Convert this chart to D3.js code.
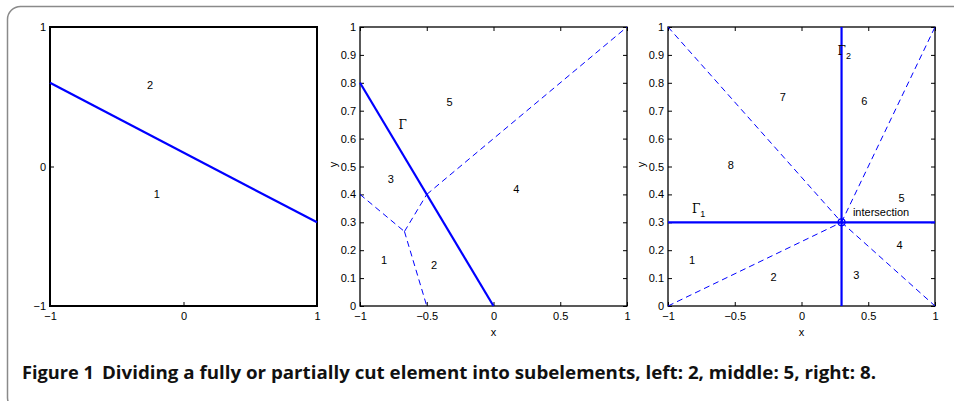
<!DOCTYPE html>
<html><head><meta charset="utf-8">
<script src="https://cdn.jsdelivr.net/npm/d3@7"></script>
<style>
html,body{margin:0;padding:0;background:#fff;}
svg{display:block;font-family:"Liberation Sans",Arial,Helvetica,sans-serif;}
</style></head>
<body><svg id="c" width="954" height="401"></svg>
<script>
// ---------- data ----------
const leftXTicks = [-1, 0, 1];
const leftYTicks = [-1, 0, 1];
const leftCut = [[-1, 0.6], [1, -0.4]];
const leftLabels = [{t: "2", x: -0.25, y: 0.58}, {t: "1", x: -0.2, y: -0.2}];

const xTicks = [-1, -0.5, 0, 0.5, 1];
const yTicks = [0, 0.1, 0.2, 0.3, 0.4, 0.5, 0.6, 0.7, 0.8, 0.9, 1];

const midCut = [[-1, 0.8], [0, 0]];
const midSub = [
  [[-1, 0.4], [-0.667, 0.267]],
  [[-0.667, 0.267], [-0.5, 0]],
  [[-0.667, 0.267], [-0.5, 0.4]],
  [[-0.5, 0.4], [1, 1]]
];
const midLabels = [
  {t: "5", x: -0.33, y: 0.73}, {t: "3", x: -0.77, y: 0.455}, {t: "4", x: 0.17, y: 0.42},
  {t: "1", x: -0.82, y: 0.165}, {t: "2", x: -0.445, y: 0.145}
];
const midGamma = {x: -0.68, y: 0.65, sub: ""};

const rightCuts = [[[0.3, 0], [0.3, 1]], [[-1, 0.3], [1, 0.3]]];
const rightPoint = [0.3, 0.3];
const rightSub = [
  [[-1, 1], [0.3, 0.3]], [[0.3, 0.3], [1, 0]],
  [[-1, 0], [0.3, 0.3]], [[0.3, 0.3], [1, 1]]
];
const rightLabels = [
  {t: "7", x: -0.14, y: 0.75}, {t: "6", x: 0.47, y: 0.735}, {t: "8", x: -0.53, y: 0.505},
  {t: "5", x: 0.75, y: 0.385}, {t: "4", x: 0.735, y: 0.218}, {t: "1", x: -0.82, y: 0.165},
  {t: "2", x: -0.21, y: 0.102}, {t: "3", x: 0.41, y: 0.11}
];
const rightGammas = [{x: 0.32, y: 0.915, sub: "2"}, {x: -0.77, y: 0.35, sub: "1"}];
const rightNote = {t: "intersection", x: 0.385, y: 0.335};

const captionHead = "Figure 1";
const captionBody = "Dividing a fully or partially cut element into subelements, left: 2, middle: 5, right: 8.";

// ---------- drawing ----------
const svg = d3.select("#c");
const blue = "#0000ff";
const FS = 11;

// outer frame (right and bottom edges run off the picture)
svg.append("rect").attr("x", 7.5).attr("y", 6.5).attr("width", 1000).attr("height", 404)
  .attr("rx", 13).attr("fill", "none").attr("stroke", "#8a8a8a").attr("stroke-width", 1.5);

function panel(opts) {
  const {x0, x1, y0, y1, xdom, ydom, xt, yt, mirror, box, axisLabels} = opts;
  const xs = d3.scaleLinear().domain(xdom).range([x0, x1]);
  const ys = d3.scaleLinear().domain(ydom).range([y1, y0]);
  const g = svg.append("g");
  const fmt = v => (v < 0 ? "\u2212" + Math.abs(v) : String(v));
  const bottom = d3.axisBottom(xs).tickValues(xt).tickSize(-4).tickPadding(6).tickFormat(fmt);
  const left = d3.axisLeft(ys).tickValues(yt).tickSize(-4).tickPadding(4).tickFormat(fmt);
  const gb = g.append("g").attr("transform", `translate(0,${y1})`).call(bottom);
  const gl = g.append("g").attr("transform", `translate(${x0},0)`).call(left);
  [gb, gl].forEach(a => {
    a.select(".domain").remove();
    a.selectAll("line").attr("stroke", "#000");
    a.selectAll("text").attr("font-size", FS).attr("fill", "#000")
      .attr("font-family", '"Liberation Sans", Arial, sans-serif');
  });
  gb.selectAll("text").attr("dy", "0.71em");
  if (mirror) {
    const gt = g.append("g").attr("transform", `translate(0,${y0})`)
      .call(d3.axisTop(xs).tickValues(xt).tickSize(-4).tickFormat(""));
    const gr = g.append("g").attr("transform", `translate(${x1},0)`)
      .call(d3.axisRight(ys).tickValues(yt).tickSize(-4).tickFormat(""));
    [gt, gr].forEach(a => { a.select(".domain").remove(); a.selectAll("line").attr("stroke", "#000"); });
  }
  g.append("rect").attr("x", x0).attr("y", y0).attr("width", x1 - x0).attr("height", y1 - y0)
    .attr("fill", "none").attr("stroke", "#000").attr("stroke-width", box);
  if (axisLabels) {
    g.append("text").attr("x", (x0 + x1) / 2).attr("y", y1 + 30).attr("text-anchor", "middle")
      .attr("font-size", FS).text("x");
    g.append("text").attr("transform", `translate(${x0 - 23},${(y0 + y1) / 2 - 2}) rotate(-90)`)
      .attr("text-anchor", "middle").attr("font-size", FS).text("y");
  }
  return {g, xs, ys};
}

const line = (p, xs, ys) => d3.line().x(d => xs(d[0])).y(d => ys(d[1]))(p);

function labels(P, arr) {
  P.g.selectAll(null).data(arr).join("text")
    .attr("x", d => P.xs(d.x)).attr("y", d => P.ys(d.y)).attr("dy", "0.35em")
    .attr("text-anchor", "middle").attr("font-size", FS).attr("fill", "#000").text(d => d.t);
}
function gamma(P, d) {
  const t = P.g.append("text").attr("x", P.xs(d.x)).attr("y", P.ys(d.y)).attr("dy", "0.35em")
    .attr("text-anchor", "middle").attr("font-size", 12)
    .attr("font-family", '"DejaVu Serif", "Liberation Serif", serif').attr("fill", "#000");
  t.append("tspan").text("\u0393");
  if (d.sub) t.append("tspan").attr("dy", "0.45em").attr("font-size", 9)
    .attr("font-family", '"Liberation Sans", Arial, sans-serif').text(d.sub);
}

// left panel
const L = panel({x0: 50, x1: 317, y0: 27, y1: 306, xdom: [-1, 1], ydom: [-1, 1],
  xt: leftXTicks, yt: leftYTicks, mirror: false, box: 2, axisLabels: false});
L.g.append("path").attr("d", line(leftCut, L.xs, L.ys)).attr("stroke", blue)
  .attr("stroke-width", 2.2).attr("fill", "none");
labels(L, leftLabels);

// middle panel
const M = panel({x0: 360, x1: 627, y0: 27, y1: 306, xdom: [-1, 1], ydom: [0, 1],
  xt: xTicks, yt: yTicks, mirror: true, box: 1.3, axisLabels: true});
midSub.forEach(s => M.g.append("path").attr("d", line(s, M.xs, M.ys)).attr("stroke", blue)
  .attr("stroke-width", 1).attr("stroke-dasharray", "6,4").attr("fill", "none"));
M.g.append("path").attr("d", line(midCut, M.xs, M.ys)).attr("stroke", blue)
  .attr("stroke-width", 2.2).attr("fill", "none");
labels(M, midLabels);
gamma(M, midGamma);

// right panel
const R = panel({x0: 668, x1: 935, y0: 27, y1: 306, xdom: [-1, 1], ydom: [0, 1],
  xt: xTicks, yt: yTicks, mirror: true, box: 1.3, axisLabels: true});
rightSub.forEach(s => R.g.append("path").attr("d", line(s, R.xs, R.ys)).attr("stroke", blue)
  .attr("stroke-width", 1).attr("stroke-dasharray", "6,4").attr("fill", "none"));
rightCuts.forEach(s => R.g.append("path").attr("d", line(s, R.xs, R.ys)).attr("stroke", blue)
  .attr("stroke-width", 2.2).attr("fill", "none"));
R.g.append("circle").attr("cx", R.xs(rightPoint[0])).attr("cy", R.ys(rightPoint[1])).attr("r", 3.5)
  .attr("fill", "none").attr("stroke", blue).attr("stroke-width", 1.2);
labels(R, rightLabels);
rightGammas.forEach(d => gamma(R, d));
R.g.append("text").attr("x", R.xs(rightNote.x)).attr("y", R.ys(rightNote.y)).attr("dy", "0.35em")
  .attr("font-size", FS).attr("fill", "#000").text(rightNote.t);

// caption
const cap = svg.append("text").attr("x", 22).attr("y", 379).attr("font-size", 17).attr("font-weight", "bold")
  .attr("font-family", '"Open Sans", "Liberation Sans", sans-serif').attr("fill", "#111");
cap.append("tspan").attr("textLength", 72).attr("lengthAdjust", "spacingAndGlyphs").text(captionHead);
cap.append("tspan").attr("x", 102).attr("textLength", 774).attr("lengthAdjust", "spacingAndGlyphs").text(captionBody);
</script></body></html>
